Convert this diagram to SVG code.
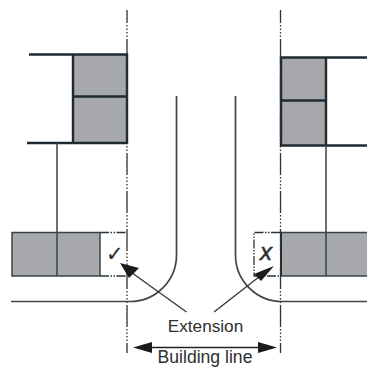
<svg xmlns="http://www.w3.org/2000/svg" width="367" height="367" viewBox="0 0 367 367">
<style>
.wall{fill:none;stroke:#1f2a30;stroke-width:2.4}
.thin{fill:none;stroke:#39444a;stroke-width:1.5}
.road{fill:none;stroke:#3c4649;stroke-width:1.7}
.grey{fill:#a7a8ab}
.bl{fill:none;stroke:#2b3438;stroke-width:1.3;stroke-dasharray:22 2 1.5 2 1.5 2 1.5 2 1.5 2;stroke-dashoffset:9}
.ext{fill:none;stroke:#2b3438;stroke-width:1.3;stroke-dasharray:9 1.5 1.5 1.5 1.5 1.5}
.lead{fill:none;stroke:#3a3a3a;stroke-width:1.4}
.head{fill:#1c1c1c}
text{font-family:"Liberation Sans",Arial,sans-serif;fill:#2e2e2e}
</style>
<g id="building-top-left">
<rect class="grey" x="73" y="54.5" width="54" height="88.500"/>
<path class="wall" d="M29 54.500H127V143H27M73 54.500V143M73 96.500H127"/>
</g>
<g id="building-top-right">
<rect class="grey" x="281" y="57.500" width="46" height="88"/>
<path class="wall" d="M367 57.500H281V145.500H367M326 57.500V145.500M281 100.500H326"/>
</g>
<g id="building-bottom-left">
<rect class="grey" x="12" y="232.500" width="88" height="43.500"/>
<path class="thin" d="M12 232.500H100V276H12ZM57 143V276"/>
<path class="ext" d="M100 232.500H127M100 276H127"/>
<text x="105.500" y="261" font-size="21" font-family="DejaVu Sans" stroke="#2e2e2e" stroke-width="0.2">✓</text>
</g>
<g id="building-bottom-right">
<rect class="grey" x="281" y="232.500" width="86" height="43.500"/>
<path class="thin" d="M367 232.500H281V276H367M326 145.500V276"/>
<path d="M281 232.500V276" stroke="#1f2a30" stroke-width="2" fill="none"/>
<path class="ext" d="M280 232.500H254V276H280"/>
<text x="266" y="260" font-size="24" font-style="italic" stroke="#2e2e2e" stroke-width="0.5" text-anchor="middle">x</text>
</g>
<g id="connectors">
<path class="bl" d="M127 10V353"/>
<path class="bl" d="M280.500 10V353"/>
<path class="road" d="M176.500 96V255A46.500 46.500 0 0 1 130 301.500H11"/>
<path class="road" d="M235.500 96V255A46.500 46.500 0 0 0 282 301.500H367"/>
<path class="lead" d="M128 270L186.500 312"/>
<path class="head" d="M120 263L139 268L129 278Z"/>
<path class="lead" d="M264 273L214 312"/>
<path class="head" d="M274 266L261 281L254 274Z"/>
<path d="M145 347.500H262" stroke="#222" stroke-width="1.300" fill="none"/>
<path class="head" d="M133 347.500L152 342V353Z"/>
<path class="head" d="M277 347.500L258 342V353Z"/>
</g>
<g id="labels">
<text x="205.500" y="332" font-size="17.200" text-anchor="middle">Extension</text>
<text x="205" y="363" font-size="17.600" text-anchor="middle">Building line</text>
</g>
</svg>
